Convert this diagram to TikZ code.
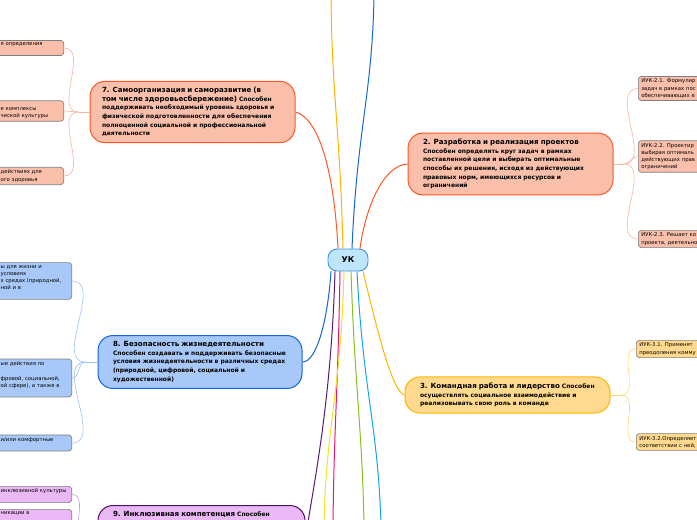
\documentclass[tikz,border=0pt]{standalone}
\usepackage{fontspec}
\setmainfont{DejaVu Sans}
\usepackage{tikz}
\usetikzlibrary{positioning}
\definecolor{ukfill}{HTML}{BEE5FA}
\definecolor{ukdraw}{HTML}{3F95DC}
\definecolor{redln}{HTML}{FF5722}
\definecolor{amberln}{HTML}{FFB300}
\definecolor{blueln}{HTML}{1565DA}
\definecolor{purpleln}{HTML}{551A78}
\definecolor{pinkln}{HTML}{F0146E}
\definecolor{yellowln}{HTML}{F4E31A}
\definecolor{greenln}{HTML}{86C11C}
\definecolor{cyanln}{HTML}{12A6EA}
\definecolor{salfill}{HTML}{F9BFAB}
\definecolor{bluefill}{HTML}{A7C8F8}
\definecolor{yelfill}{HTML}{FFDA8E}
\definecolor{purfill}{HTML}{E9B8F5}
\definecolor{purdraw}{HTML}{4A1268}
\definecolor{leafdraw}{HTML}{7F7F7F}
\definecolor{salsub}{HTML}{F8B49C}
\definecolor{bluesub}{HTML}{9DC1F2}
\definecolor{yelsub}{HTML}{FFD47E}
\definecolor{pursub}{HTML}{C8A0D8}
\newcommand{\ttl}[1]{{\fontsize{7.1}{8.6}\selectfont #1}}
\newcommand{\lcut}[1]{\leftskip=28pt\relax #1\par}
\begin{document}
\begin{tikzpicture}[x=1pt,y=-1pt,
  uk/.style={draw=ukdraw,fill=ukfill,line width=0.9pt,rounded corners=9pt,
    minimum width=40pt,minimum height=22pt,font=\fontsize{8}{9}\selectfont\bfseries},
  topic/.style={line width=1pt,rounded corners=15pt,align=left,inner xsep=15pt,
    inner ysep=6pt,font=\fontsize{6}{8.6}\selectfont\bfseries},
  leaf/.style={draw=leafdraw,line width=0.7pt,rounded corners=3pt,align=left,
    inner xsep=3pt,inner ysep=2.5pt,font=\fontsize{5.3}{7.2}\selectfont},
  leafL/.style={leaf,anchor=east,text width=#1},
  leafR/.style={leaf,anchor=west,text width=90pt},
  ln/.style={line width=1pt},
  sub/.style={line width=0.6pt}]
  \useasboundingbox (0,0) rectangle (697,520);
  \node[uk] (uk) at (348,260) {УК};
  \node[topic,draw=redln,fill=salfill,text width=181pt,inner xsep=12pt] (n7) at (192.5,112)
    {\ttl{7. Самоорганизация и саморазвитие (в}\\ \mbox{\ttl{том числе здоровьесбережение)} Способен}\\
     поддерживать необходимый уровень здоровья и\\ физической подготовленности для обеспечения\\
     полноценной социальной и профессиональной\\ деятельности};
  \node[topic,draw=redln,fill=salfill,text width=175pt] (n2) at (510.5,164)
    {\ttl{2. Разработка и реализация проектов}\\ Способен определять круг задач в рамках\\
     поставленной цели и выбирать оптимальные\\ способы их решения, исходя из действующих\\
     правовых норм, имеющихся ресурсов и\\ ограничений};
  \node[topic,draw=blueln,fill=bluefill,text width=174pt] (n8) at (200,362)
    {\ttl{8. Безопасность жизнедеятельности}\\ Способен создавать и поддерживать безопасные\\
     условия жизнедеятельности в различных средах\\ (природной, цифровой, социальной и\\
     художественной)};
  \node[topic,draw=amberln,fill=yelfill,text width=175pt] (n3) at (507.5,395)
    {\mbox{\ttl{3. Командная работа и лидерство} Способен}\\ осуществлять социальное взаимодействие и\\
     реализовывать свою роль в команде};
  \node[topic,draw=purdraw,fill=purfill,text width=177pt,text depth=50pt,anchor=north] (n9) at (201.5,505)
    {\mbox{\ttl{9. Инклюзивная компетенция} Способен}};

  \node[leafL=88pt,fill=salfill] (l71) at (64,48) {\lcut{я определения\\ \mbox{}}};
  \node[leafL=88pt,fill=salfill] (l72) at (64,111) {\lcut{\mbox{}\\ е комплексы\\ ческой культуры}};
  \node[leafL=88pt,fill=salfill] (l73) at (64,176) {\lcut{действиях для\\ ого здоровья}};
  \node[leafL=96pt,fill=bluefill] (l81) at (72,281) {\lcut{ы для жизни и\\ условиях\\ х средах (природной,\\ ной и в\\ \mbox{}}};
  \node[leafL=96pt,fill=bluefill] (l82) at (72,378) {\lcut{ые действия по\\ \mbox{}\\ фровой, социальной,\\ ой сфере), а также в\\ \mbox{}}};
  \node[leafL=96pt,fill=bluefill] (l83) at (72,443) {\lcut{и/или комфортные\\ \mbox{}}};
  \node[leafL=96pt,fill=purfill] (l91) at (72,494.5) {\lcut{инклюзивной культуры\\ \mbox{}}};
  \node[leafL=96pt,fill=purfill,anchor=north east] (l92) at (72,509) {\lcut{никации в\\ \mbox{}\\ \mbox{}}};
  \node[leafR,fill=salfill] (l21) at (638,88.5) {ИУК-2.1. Формулир\\ задач в рамках пос\\ обеспечивающих е};
  \node[leafR,fill=salfill] (l22) at (638,156.5) {ИУК-2.2. Проектир\\ выбирая оптималь\\ действующих прав\\ ограничений};
  \node[leafR,fill=salfill] (l23) at (638,239) {ИУК-2.3. Решает ко\\ проекта, деятельно};
  \node[leafR,fill=yelfill] (l31) at (636,349) {ИУК-3.1. Применят\\ преодоления комму};
  \node[leafR,fill=yelfill] (l32) at (636,442) {ИУК-3.2.Определяет\\ соответствии с ней,};

  \coordinate (ta) at (331,-3);
  \coordinate (tb) at (374,-3);
  \coordinate (bp) at (333,525);
  \coordinate (by) at (324,525);
  \coordinate (bg) at (364,525);
  \coordinate (bc) at (381,525);
  \draw[ln,redln] ([xshift=-10pt]uk.north) .. controls +(-4,-79) and +(23,6) .. (n7.east);
  \draw[ln,redln] ([xshift=12pt]uk.north) .. controls +(6,-44) and +(-23,1) .. (n2.west);
  \draw[ln,amberln] ([xshift=-5pt]uk.north) .. controls +(-3,-120) and +(1,100) .. (ta);
  \draw[ln,blueln] ([xshift=4pt]uk.north) .. controls +(5,-120) and +(-2,100) .. (tb);
  \draw[ln,blueln] ([xshift=-17pt]uk.south) .. controls +(-3,45) and +(15,0) .. (n8.east);
  \draw[ln,purpleln] ([xshift=-13pt]uk.south) .. controls +(-4,140) and +(5,-40) .. (n9.east);
  \draw[ln,pinkln] ([xshift=-8pt]uk.south) .. controls +(-2,120) and +(1,-100) .. (bp);
  \draw[ln,yellowln] ([xshift=-4pt]uk.south) .. controls +(-3,120) and +(2,-100) .. (by);
  \draw[ln,greenln] ([xshift=3pt]uk.south) .. controls +(4,120) and +(-2,-100) .. (bg);
  \draw[ln,cyanln] ([xshift=9pt]uk.south) .. controls +(6,120) and +(-3,-100) .. (bc);
  \draw[ln,amberln] ([xshift=15pt]uk.south) .. controls +(12,49) and +(-13,-3) .. (n3.west);

  \draw[sub,salsub] (n7.west) -- ++(-11,0) coordinate (j7);
  \foreach \l in {l71,l72,l73} \draw[sub,salsub] (j7) to[out=180,in=0] (\l.east);
  \draw[sub,salsub] (n2.east) -- ++(10,0) coordinate (j2);
  \foreach \l in {l21,l22,l23} \draw[sub,salsub] (j2) to[out=0,in=180] (\l.west);
  \draw[sub,bluesub] (n8.west) -- ++(-12,0) coordinate (j8);
  \foreach \l in {l81,l82,l83} \draw[sub,bluesub] (j8) to[out=180,in=0] (\l.east);
  \draw[sub,yelsub] (n3.east) -- ++(11,0) coordinate (j3);
  \foreach \l in {l31,l32} \draw[sub,yelsub] (j3) to[out=0,in=180] (\l.west);
  \draw[sub,pursub] (n9.west) -- ++(-12,0) coordinate (j9);
  \foreach \l in {l91,l92} \draw[sub,pursub] (j9) to[out=180,in=0] (\l.east);
\end{tikzpicture}
\end{document}
